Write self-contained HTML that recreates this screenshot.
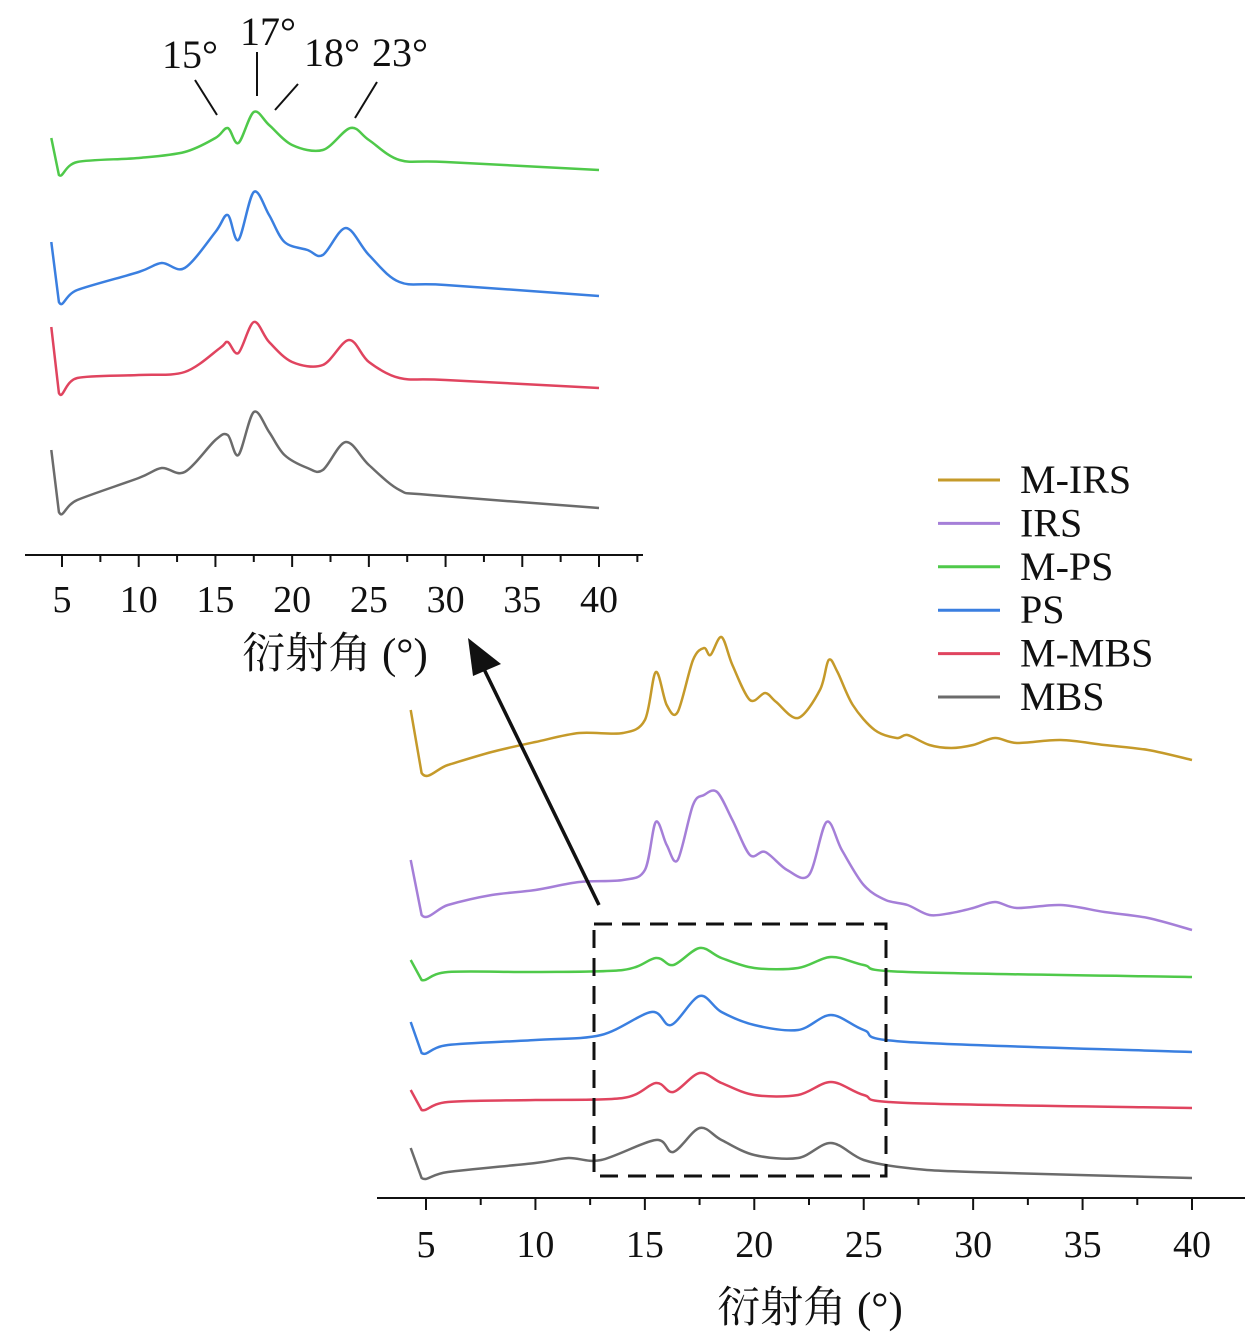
<!DOCTYPE html>
<html><head><meta charset="utf-8"><style>
html,body{margin:0;padding:0;background:#fff;}
svg text{font-family:"Liberation Serif","Noto Serif CJK SC","Noto Sans CJK SC",serif;fill:#111;}
</style></head><body>
<svg id="chart" width="1260" height="1339" viewBox="0 0 1260 1339" xmlns="http://www.w3.org/2000/svg">
<g id="inset"></g>
<g id="main"></g>
<g id="anno">
<text x="190" y="68" font-size="40" text-anchor="middle">15°</text>
<line x1="195" y1="80" x2="217" y2="115" stroke="#111" stroke-width="2"/>
<text x="268" y="45" font-size="40" text-anchor="middle">17°</text>
<line x1="257" y1="52" x2="257" y2="96" stroke="#111" stroke-width="2"/>
<text x="332" y="66" font-size="40" text-anchor="middle">18°</text>
<line x1="298" y1="84" x2="275" y2="110" stroke="#111" stroke-width="2"/>
<text x="400" y="66" font-size="40" text-anchor="middle">23°</text>
<line x1="377" y1="82" x2="355" y2="118" stroke="#111" stroke-width="2"/>
<rect x="594" y="924" width="292" height="252" fill="none" stroke="#111" stroke-width="3" stroke-dasharray="18 10"/>
<line x1="599" y1="905" x2="482" y2="665" stroke="#111" stroke-width="3.5"/>
<polygon points="468,638 501,664 473,676" fill="#111"/>
</g>
<g id="legend"></g>
</svg>
<script>
// ---- main chart data ----
const mainNames = ["M-IRS","IRS","M-PS","PS","M-MBS","MBS"];
const mainColors = ["#c59a2a","#a57fd8","#4fc94a","#3a7fe0","#e0445f","#6b6b6b"];
const mIrsX = [4.3,4.8,6,8,10,12,14,15,15.5,16,16.5,17.2,17.7,18,18.5,19,19.8,20.5,21,22,23,23.4,23.8,24.5,25.5,26.5,27,28,29,30,31,32,34,36,38,40];
const mIrsY = [490,427,435,448,458,467,467,480,528,495,488,540,552,545,563,535,500,507,498,482,510,540,528,495,470,462,465,455,452,455,462,457,460,455,450,440];
const irsX = [4.3,4.8,6,8,10,12,14,15,15.5,16,16.5,17.2,17.7,18.3,19,19.8,20.5,21.5,22.5,23.3,24,25,26,27,28,29,30,31,32,34,36,38,40];
const irsY = [340,285,295,305,310,318,320,330,378,355,340,395,405,408,380,345,348,330,325,378,350,315,300,295,285,287,292,298,292,295,288,282,270];
const mPsX = [4.3,4.8,6,10,14,15.5,16.3,17.5,18.5,20,22,23.5,25,27,40];
const mPsY = [240,220,228,228,230,242,235,252,242,232,232,243,235,228,223];
const psX = [4.3,4.8,6,10,13,15.3,16.2,17.5,18.5,20,22,23.5,25,27,40];
const psY = [178,147,155,160,165,188,175,204,188,175,170,185,170,158,148];
const mMbsX = [4.3,4.8,6,10,14,15.5,16.3,17.5,18.5,20,22,23.5,25,27,40];
const mMbsY = [110,90,98,100,102,117,108,127,117,105,105,118,105,97,92];
const mbsX = [4.3,4.8,6,10,11.5,13,15.5,16.3,17.5,18.5,20,22,23.5,25,27,30,40];
const mbsY = [52,22,28,37,42,40,60,48,72,60,45,42,57,40,32,28,22];
// ---- inset data ----
const inNames = ["M-PS","PS","M-MBS","MBS"];
const inColors = ["#4fc94a","#3a7fe0","#e0445f","#6b6b6b"];
const inGreenX = [4.3,4.8,6,10,13,15,15.8,16.5,17.5,18.5,20,22,23.8,25,27,30,40];
const inGreenY = [422,385,398,402,408,422,432,417,448,435,415,410,432,420,400,398,390];
const inBlueX = [4.3,4.8,6,10,11.5,13,15,15.8,16.5,17.5,18.5,19.5,21,22,23.5,25,27,30,40];
const inBlueY = [318,258,270,288,297,292,328,345,320,368,345,318,310,305,332,305,278,275,264];
const inRedX = [4.3,4.8,6,10,13,15.3,15.8,16.5,17.5,18.5,20,22,23.7,25,27,30,40];
const inRedY = [233,167,182,185,188,212,218,207,238,218,198,195,220,198,182,180,172];
const inGrayX = [4.3,4.8,6,10,11.5,13,15,15.8,16.5,17.5,18.5,19.5,21,22,23.5,25,27,29,40];
const inGrayY = [110,48,60,82,92,88,120,125,105,148,128,105,92,90,118,95,70,65,52];
const tickVals = [5,10,15,20,25,30,35,40];
const minorVals = [2.5,7.5,12.5,17.5,22.5,27.5,32.5,37.5,42.5];

const NS="http://www.w3.org/2000/svg";
function mk(tag,attrs,parent){const e=document.createElementNS(NS,tag);for(const k in attrs)e.setAttribute(k,attrs[k]);parent.appendChild(e);return e;}
function smoothPath(P){
  let d="M"+P[0][0].toFixed(1)+","+P[0][1].toFixed(1);
  for(let i=0;i<P.length-1;i++){
    const p0=P[Math.max(0,i-1)],p1=P[i],p2=P[i+1],p3=P[Math.min(P.length-1,i+2)];
    const t=i===0?0:0.16, t2=i+1===1?0:0.16;
    const c1=[p1[0]+(p2[0]-p0[0])*t,p1[1]+(p2[1]-p0[1])*t];
    const c2=[p2[0]-(p3[0]-p1[0])*t2,p2[1]-(p3[1]-p1[1])*t2];
    d+=" C"+c1[0].toFixed(1)+","+c1[1].toFixed(1)+" "+c2[0].toFixed(1)+","+c2[1].toFixed(1)+" "+p2[0].toFixed(1)+","+p2[1].toFixed(1);
  }
  return d;
}

function drawChart(g,xScale,ys,axisY,x0,x1,tickY,titleX,titleY,series,names,colors){
  series.forEach((s,i)=>{
    const P=s[0].map((a,j)=>[xScale(a),ys(s[1][j])]);
    const p=mk("path",{d:smoothPath(P),fill:"none",stroke:colors[i],"stroke-width":2.5,"stroke-linejoin":"round"},g);
    
    
  });
  const ax=mk("line",{x1:x0,y1:axisY,x2:x1,y2:axisY,stroke:"#111","stroke-width":2},g);
  
  
  tickVals.forEach(v=>{
    mk("line",{x1:xScale(v),y1:axisY,x2:xScale(v),y2:axisY+12,stroke:"#111","stroke-width":2},g);
    const t=mk("text",{x:xScale(v),y:tickY,"font-size":38,"text-anchor":"middle"},g);
    t.textContent=v;
    
    
  });
  minorVals.forEach(v=>{const x=xScale(v); if(x>=x0&&x<=x1) mk("line",{x1:x,y1:axisY,x2:x,y2:axisY+7,stroke:"#111","stroke-width":2},g);});
  const tt=mk("text",{x:titleX,y:titleY,"font-size":43,"text-anchor":"middle"},g);
  tt.textContent="衍射角 (°)";
  
  
}

drawChart(document.getElementById("main"),
  a=>426+(a-5)*21.886, v=>1200-v, 1198, 377, 1245, 1257, 810, 1322,
  [[mIrsX,mIrsY],[irsX,irsY],[mPsX,mPsY],[psX,psY],[mMbsX,mMbsY],[mbsX,mbsY]], mainNames, mainColors);
drawChart(document.getElementById("inset"),
  a=>62+(a-5)*15.343, v=>560-v, 555, 25, 643, 612, 335, 668,
  [[inGreenX,inGreenY],[inBlueX,inBlueY],[inRedX,inRedY],[inGrayX,inGrayY]], inNames, inColors);

const lg=document.getElementById("legend");
mainNames.forEach((n,i)=>{
  const y=480+i*43.4;
  const l=mk("line",{x1:938,y1:y,x2:1000,y2:y,stroke:mainColors[i],"stroke-width":3},lg);
  
  
  const t=mk("text",{x:1020,y:y+13,"font-size":40},lg);
  t.textContent=n;
  
  
});
</script>
</body></html>
